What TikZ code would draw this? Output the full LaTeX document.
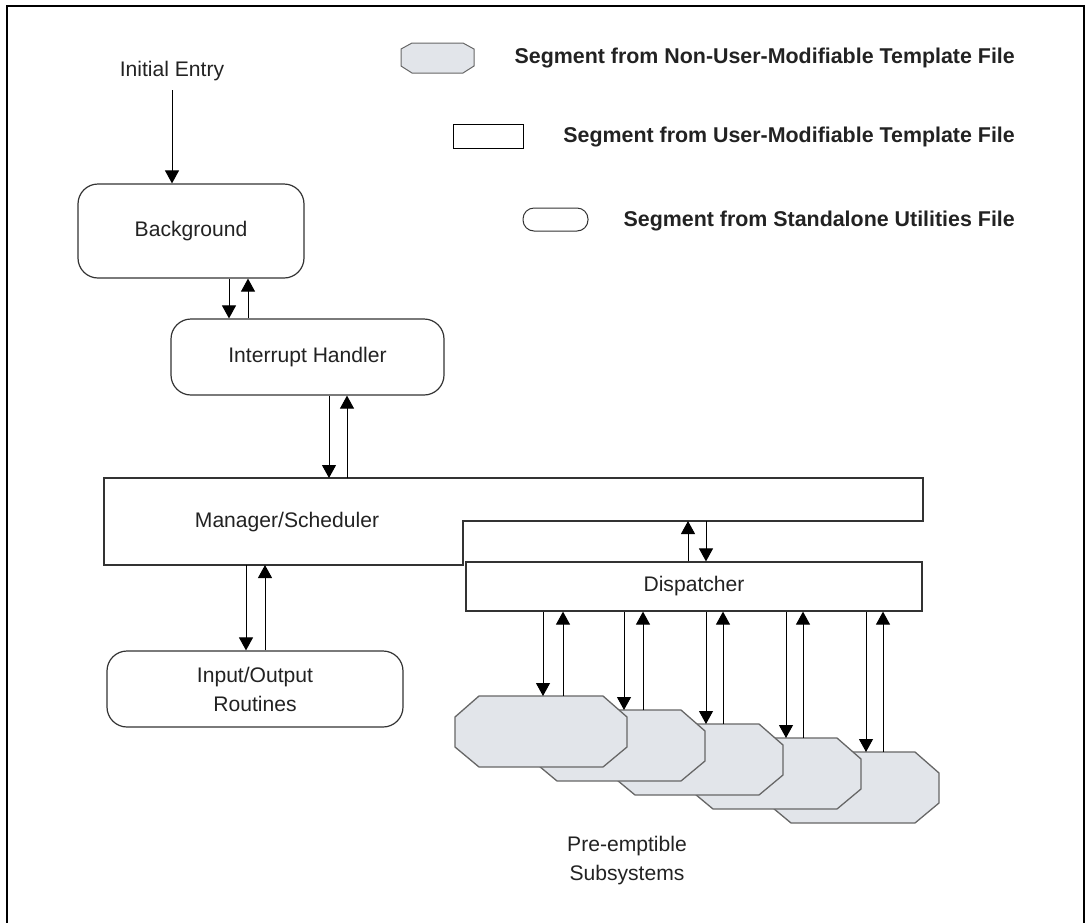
\documentclass[tikz,border=0pt]{standalone}
\usepackage{fontspec}
\setmainfont{Liberation Sans}
\usetikzlibrary{arrows.meta,calc}
\definecolor{ink}{HTML}{222222}
\definecolor{boxline}{HTML}{333333}
\definecolor{subfill}{HTML}{E2E5EA}
\definecolor{subline}{HTML}{666666}
% octagon outline cut from the corners of a named rectangle node
\newcommand\chamferpath[4]{%
  ($(#1.north west)+(#2,0)$) -- ($(#1.north east)+(-#2,0)$) --
  ($(#1.north east)+(0,#3)$) -- ($(#1.south east)+(0,-#4)$) --
  ($(#1.south east)+(-#2,0)$) -- ($(#1.south west)+(#2,0)$) --
  ($(#1.south west)+(0,-#4)$) -- ($(#1.north west)+(0,#3)$) -- cycle}
\begin{document}
\begin{tikzpicture}[x=1pt,y=-1pt,
  lbl/.style={font=\fontsize{21.1}{29}\selectfont, text=ink, align=center, inner sep=0pt},
  key/.style={font=\bfseries\fontsize{21.4}{25}\selectfont, text=ink, anchor=east, inner sep=0pt},
  rbox/.style={draw=boxline, line width=1.2pt, rounded corners=20pt, inner sep=0pt},
  sbox/.style={draw=boxline, line width=1.2pt, inner sep=0pt},
  ghost/.style={inner sep=0pt, outer sep=0pt},
  arr/.style={draw=black, line width=1pt, -{Triangle[width=14pt,length=13pt]}},
  chamfer/.style={fill=subfill, draw=subline, line width=1.3pt, line join=miter},
]
\useasboundingbox (0,0) rectangle (1085,922);

% frame
\draw[line width=2.4pt] (7,930) -- (7,6.2) -- (1083.8,6.2) -- (1083.8,930);

% key
\node[ghost, minimum width=73pt, minimum height=30pt] (keyss) at (437.5,58) {};
\filldraw[chamfer, line width=1pt] \chamferpath{keyss}{11}{6}{7};
\node[key] (keyssT) at (1015,58) {Segment from Non-User-Modifiable Template File};
\node[sbox, draw=black, line width=1pt, minimum width=70pt, minimum height=24pt] (keyuser) at (488,136) {};
\node[key] (keyuserT) at (1015,137) {Segment from User-Modifiable Template File};
\node[rbox, rounded corners=11pt, line width=1pt, minimum width=65pt, minimum height=23pt] (keyutil) at (555.5,219.5) {};
\node[key] (keyutilT) at (1015,221) {Segment from Standalone Utilities File};

% main chain
\node[lbl] (entry) at (172,71) {Initial Entry};
\node[rbox, lbl, minimum width=226pt, minimum height=94pt] (bg) at (191,231) {Background};
\node[rbox, lbl, minimum width=273pt, minimum height=76pt] (ih) at (307.5,357) {Interrupt Handler};

\node[ghost, minimum width=819pt, minimum height=87pt] (mgr) at (513.5,521.5) {};
\coordinate (mgrstep) at (463,521);
\draw[draw=boxline, line width=1.2pt] (mgr.north west) -- (mgr.north east) -- (mgr.north east |- mgrstep)
  -- (mgrstep) -- (mgrstep |- mgr.south) -- (mgr.south west) -- cycle;
\node[lbl] (mgrlabel) at (287,522) {Manager/Scheduler};

\node[sbox, lbl, minimum width=456pt, minimum height=49pt] (disp) at (694,586.5) {Dispatcher};
\node[rbox, lbl, minimum width=296pt, minimum height=76pt] (io) at (255,689) {Input/Output\\Routines};

% pre-emptible subsystems, back to front
\foreach \i/\lx/\ty in {4/767/752, 3/689/738, 2/611/724, 1/533/710, 0/455/696} {
  \node[ghost, minimum width=172pt, minimum height=71pt, anchor=north west] (ss\i) at (\lx,\ty) {};
  \filldraw[chamfer] \chamferpath{ss\i}{24}{21}{20};
}
\node[lbl] (pre) at (627,861) {Pre-emptible\\Subsystems};

% connectors
\draw[arr] ([yshift=-9pt]entry.south) -- (bg.north -| entry.south);
\draw[arr] (bg.south -| 229,0) -- (ih.north -| 229,0);
\draw[arr] (ih.north -| 248,0) -- (bg.south -| 248,0);
\draw[arr] (ih.south -| 329,0) -- (mgr.north -| 329,0);
\draw[arr] (mgr.north -| 347,0) -- (ih.south -| 347,0);
\draw[arr] (mgr.south -| 246,0) -- (io.north -| 246,0);
\draw[arr] (io.north -| 265,0) -- (mgr.south -| 265,0);
\draw[arr] (disp.north -| 688,0) -- (mgrstep -| 688,0);
\draw[arr] (mgrstep -| 706,0) -- (disp.north -| 706,0);
\foreach \i/\dx/\ux in {0/543/563, 1/624/643, 2/706/723, 3/786/803, 4/866/883} {
  \draw[arr] (disp.south -| \dx,0) -- (ss\i.north -| \dx,0);
  \draw[arr] (ss\i.north -| \ux,0) -- (disp.south -| \ux,0);
}
\end{tikzpicture}
\end{document}
